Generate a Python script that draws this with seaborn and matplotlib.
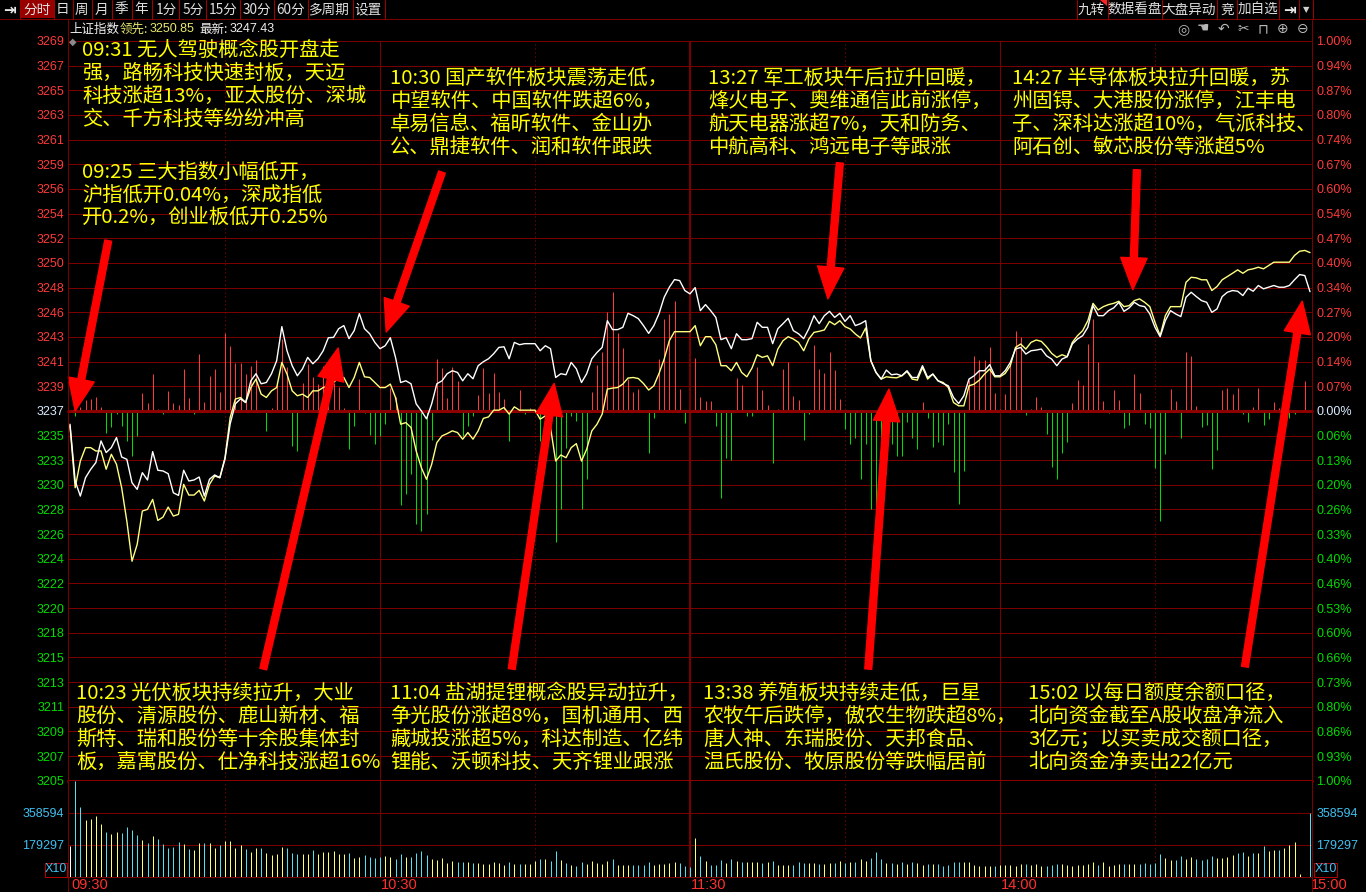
import numpy as np
import pandas as pd
import matplotlib
matplotlib.use("Agg")
import matplotlib.pyplot as plt
import matplotlib.transforms as mtransforms
from matplotlib.lines import Line2D
from matplotlib.patches import Rectangle, Polygon
import seaborn as sns

sns.set_style("dark", {"axes.facecolor": "black", "figure.facecolor": "black"})
plt.rcParams['font.family'] = ['Noto Sans CJK SC', 'DejaVu Sans']
plt.rcParams['axes.unicode_minus'] = False

# ---------------- data ----------------
PRE_CLOSE = 3237.0
LEAD_LAST = "3250.85"
INDEX_LAST = "3247.43"
STOCK_NAME = "上证指数"

time_labels = ["09:30", "10:30", "11:30", "14:00", "15:00"]
time_label_idx = [0, 60, 120, 180, 240]
solid_grid_idx = [60, 120, 180]
dotted_grid_idx = [30, 90, 150, 210]

price_labels_up = ["3239", "3241", "3243", "3246", "3248", "3250", "3252", "3254",
                   "3256", "3259", "3261", "3263", "3265", "3267", "3269"]
price_labels_down = ["3235", "3233", "3230", "3228", "3226", "3224", "3222", "3220",
                     "3218", "3215", "3213", "3211", "3209", "3207", "3205"]
pct_labels_up = ["0.07%", "0.14%", "0.20%", "0.27%", "0.34%", "0.40%", "0.47%", "0.54%",
                 "0.60%", "0.67%", "0.74%", "0.80%", "0.87%", "0.94%", "1.00%"]
pct_labels_down = ["0.06%", "0.13%", "0.20%", "0.26%", "0.33%", "0.40%", "0.46%", "0.53%",
                   "0.60%", "0.66%", "0.73%", "0.80%", "0.86%", "0.93%", "1.00%"]
volume_ticks = [179297, 358594]

# 上证指数 (white line), one value per minute
index_line = [
    3235.83, 3230.86, 3229.54, 3231.15, 3231.88, 3232.47, 3234.37, 3233.35, 3233.78, 3234.66,
    3232.96, 3232.76, 3230.71, 3230.13, 3231.59, 3230.95, 3233.43, 3231.80, 3231.74, 3231.50,
    3229.83, 3229.60, 3231.80, 3230.86, 3230.95, 3231.21, 3229.54, 3231.01, 3231.39, 3231.15,
    3232.79, 3235.86, 3237.61, 3238.05, 3237.73, 3239.63, 3240.25, 3239.37, 3239.48, 3240.25,
    3241.39, 3244.37, 3242.26, 3240.95, 3240.07, 3240.68, 3241.68, 3241.12, 3241.56, 3242.26,
    3243.40, 3243.43, 3244.19, 3244.46, 3243.32, 3244.02, 3245.51, 3244.19, 3243.75, 3242.99,
    3242.44, 3242.70, 3243.40, 3241.68, 3239.48, 3239.63, 3239.37, 3237.61, 3237.00, 3236.30,
    3237.61, 3239.37, 3239.63, 3240.25, 3240.51, 3240.36, 3239.63, 3240.25, 3239.81, 3240.95,
    3241.30, 3241.56, 3242.00, 3242.55, 3242.61, 3241.56, 3242.99, 3242.79, 3242.88, 3242.88,
    3242.88, 3242.26, 3242.70, 3242.44, 3239.92, 3240.25, 3240.16, 3241.24, 3240.68, 3239.48,
    3240.25, 3241.56, 3242.11, 3242.55, 3244.89, 3244.11, 3244.11, 3244.31, 3245.54, 3245.33,
    3245.07, 3244.46, 3243.78, 3244.46, 3245.51, 3246.94, 3247.82, 3248.49, 3248.40, 3247.53,
    3247.24, 3247.79, 3245.77, 3246.30, 3245.77, 3245.18, 3243.23, 3243.40, 3242.44, 3243.75,
    3243.23, 3243.23, 3243.32, 3244.75, 3244.31, 3244.31, 3242.88, 3244.19, 3244.63, 3245.10,
    3244.02, 3243.75, 3243.32, 3244.19, 3245.33, 3244.63, 3245.33, 3245.71, 3245.18, 3245.54,
    3244.83, 3245.33, 3244.46, 3244.63, 3244.89, 3241.39, 3240.36, 3239.78, 3240.57, 3240.16,
    3240.22, 3240.07, 3240.51, 3239.92, 3239.92, 3240.95, 3239.92, 3240.22, 3239.63, 3239.39,
    3239.19, 3238.17, 3237.64, 3238.32, 3239.78, 3240.07, 3240.51, 3240.51, 3241.04, 3240.07,
    3240.07, 3240.51, 3241.24, 3242.41, 3242.55, 3241.97, 3242.26, 3242.32, 3242.41, 3241.82,
    3241.53, 3240.95, 3241.53, 3241.74, 3242.85, 3243.29, 3243.58, 3244.31, 3246.21, 3245.33,
    3245.33, 3245.77, 3246.01, 3246.50, 3245.71, 3246.01, 3246.50, 3246.21, 3246.12, 3245.48,
    3244.31, 3243.49, 3244.89, 3245.77, 3245.48, 3245.25, 3246.94, 3247.38, 3247.00, 3246.65,
    3246.50, 3245.62, 3245.92, 3247.00, 3247.38, 3247.53, 3247.47, 3247.09, 3247.73, 3247.47,
    3247.97, 3247.68, 3247.82, 3247.97, 3247.82, 3247.82, 3247.97, 3248.47, 3248.93, 3248.84,
    3247.43]

# 领先指标 (yellow line)
lead_line = [
    3235.68, 3230.27, 3232.61, 3233.78, 3233.78, 3233.49, 3233.49, 3231.89, 3233.20, 3232.32,
    3230.27, 3227.35, 3223.84, 3225.31, 3228.23, 3228.38, 3229.25, 3227.41, 3227.70, 3228.58,
    3227.79, 3227.94, 3230.57, 3229.63, 3229.63, 3230.04, 3229.11, 3230.57, 3231.30, 3231.15,
    3232.90, 3236.41, 3238.03, 3238.17, 3237.73, 3239.04, 3239.78, 3238.46, 3238.17, 3238.75,
    3239.04, 3241.24, 3240.22, 3238.75, 3238.32, 3238.46, 3238.17, 3238.75, 3238.75, 3239.04,
    3239.19, 3239.48, 3239.92, 3239.92, 3239.04, 3239.92, 3241.24, 3239.98, 3239.92, 3239.48,
    3239.04, 3239.04, 3239.34, 3238.17, 3235.83, 3235.97, 3235.54, 3233.49, 3232.03, 3231.01,
    3232.32, 3234.22, 3234.81, 3235.01, 3235.25, 3235.10, 3234.52, 3235.10, 3234.52, 3235.25,
    3236.34, 3236.47, 3237.06, 3237.06, 3237.29, 3236.71, 3237.35, 3237.06, 3237.06, 3237.06,
    3237.06, 3236.27, 3236.56, 3235.54, 3232.61, 3233.14, 3232.90, 3233.78, 3234.13, 3232.61,
    3233.64, 3235.25, 3235.83, 3236.71, 3238.90, 3238.99, 3239.04, 3239.34, 3239.87, 3239.92,
    3239.83, 3239.39, 3238.82, 3239.19, 3240.27, 3241.53, 3243.14, 3243.93, 3243.93, 3243.93,
    3243.93, 3244.46, 3242.70, 3243.49, 3243.49, 3242.79, 3240.95, 3240.95, 3240.51, 3241.24,
    3240.36, 3239.98, 3240.75, 3241.91, 3241.68, 3241.82, 3240.95, 3242.41, 3243.14, 3243.49,
    3243.29, 3242.99, 3242.26, 3243.29, 3243.87, 3243.96, 3244.08, 3244.83, 3244.54, 3244.89,
    3244.37, 3244.17, 3243.73, 3243.38, 3244.25, 3241.39, 3240.36, 3239.78, 3239.98, 3239.92,
    3239.89, 3240.07, 3240.45, 3239.78, 3239.69, 3240.80, 3239.78, 3240.22, 3239.63, 3239.48,
    3239.04, 3237.73, 3237.44, 3237.44, 3239.19, 3239.34, 3239.69, 3240.22, 3240.66, 3239.98,
    3239.98, 3240.27, 3240.95, 3242.55, 3242.85, 3242.41, 3242.99, 3243.20, 3243.08, 3242.61,
    3242.03, 3241.68, 3241.91, 3241.74, 3242.99, 3243.58, 3244.02, 3244.89, 3246.41, 3245.83,
    3246.12, 3246.30, 3246.41, 3246.59, 3246.12, 3246.21, 3246.65, 3246.80, 3246.50, 3246.12,
    3244.75, 3243.58, 3245.33, 3246.12, 3246.12, 3246.12, 3248.25, 3248.69, 3248.64, 3248.47,
    3248.47, 3247.53, 3247.88, 3248.47, 3248.75, 3249.04, 3249.34, 3249.04, 3249.34, 3249.43,
    3249.57, 3249.43, 3249.72, 3250.01, 3250.01, 3250.01, 3250.01, 3250.60, 3250.97, 3251.04,
    3250.85]

# buy/sell strength bars (red up, green down), arbitrary units
strength = [
    0, -5, 4, 11, 12, 14, 4, -22, -16, -3,
    -15, -30, -45, -25, 18, 8, 37, 2, -3, 20,
    8, 6, 42, 13, -3, 57, 9, 35, 42, 19,
    78, 65, 48, 48, 37, 45, 51, 0, -20, 3,
    29, 72, 44, -35, -40, 28, 47, 34, 27, 45,
    37, 28, 24, 3, -38, -15, 32, -2, -24, -33,
    -25, -13, 23, 14, -94, -83, -63, -113, -120, -103,
    -29, 52, 43, 13, 44, 30, -25, -15, -5, 16,
    43, 18, 38, 19, 12, -30, 0, 21, -3, 3,
    0, -30, 5, 0, -131, -98, -37, -5, -10, -98,
    -68, 19, 46, 59, 99, 119, 78, 63, 32, 19,
    22, -1, -42, -7, 52, 92, 97, 110, 22, -12,
    0, 53, 14, 10, 10, -15, -87, -47, -49, 33,
    26, -5, -5, 44, 21, 6, -52, 2, 42, 49,
    15, 11, -29, -3, 66, 42, 38, 59, 41, 12,
    -18, -33, -27, -68, -33, -98, -135, -120, -63, -33,
    -45, -45, -11, -27, -38, 9, -7, -36, -31, -34,
    -13, -61, -93, -60, 31, 55, 51, 51, 64, 18,
    2, 17, 46, 80, 74, -4, 2, 14, 4, -23,
    -56, -68, -42, -31, 8, 31, 26, 67, 92, 49,
    10, -2, 21, 11, -17, -14, 37, 18, -13, -17,
    -57, -110, -43, 22, 10, -27, 59, 55, 5, -16,
    -14, -58, -39, 21, 23, 17, 23, -3, -11, 4,
    23, -14, -8, 9, 3, 0, -7, -3, -1, 30,
    0]

# volume per minute (thousands)
volume_k = [
    174, 538, 389, 320, 325, 338, 297, 252, 241, 252,
    247, 280, 263, 235, 207, 191, 230, 213, 185, 163,
    168, 196, 185, 157, 151, 191, 191, 191, 163, 179,
    202, 202, 163, 179, 157, 140, 163, 163, 134, 123,
    129, 168, 163, 134, 129, 129, 129, 151, 129, 140,
    140, 146, 129, 129, 134, 106, 112, 123, 112, 106,
    112, 118, 112, 101, 129, 112, 112, 134, 146, 123,
    101, 95, 105, 80, 92, 86, 84, 84, 77, 77,
    73, 73, 82, 77, 67, 82, 75, 73, 71, 73,
    90, 101, 99, 90, 146, 95, 77, 69, 64, 86,
    75, 88, 80, 71, 88, 101, 69, 67, 67, 67,
    67, 67, 82, 67, 71, 73, 77, 86, 77, 64,
    58, 220, 120, 90, 69, 67, 97, 80, 99, 92,
    84, 84, 82, 84, 78, 82, 88, 67, 67, 69,
    67, 82, 80, 80, 80, 75, 75, 78, 78, 90,
    78, 84, 84, 103, 92, 106, 140, 103, 78, 77,
    71, 86, 73, 86, 77, 69, 71, 75, 71, 64,
    69, 84, 84, 82, 84, 65, 64, 64, 64, 64,
    65, 67, 65, 64, 71, 71, 67, 71, 64, 64,
    67, 71, 71, 69, 64, 67, 65, 75, 86, 69,
    82, 64, 69, 75, 71, 75, 71, 71, 78, 75,
    78, 129, 108, 93, 93, 118, 99, 110, 103, 95,
    99, 120, 105, 105, 110, 121, 134, 138, 118, 133,
    136, 174, 144, 149, 151, 161, 177, 196, 19, 0,
    357]

notes = [
    ["09:31 无人驾驶概念股开盘走", "强，路畅科技快速封板，天迈", "科技涨超13%，亚太股份、深城", "交、千方科技等纷纷冲高"],
    ["09:25 三大指数小幅低开，", "沪指低开0.04%，深成指低", "开0.2%，创业板低开0.25%"],
    ["10:30 国产软件板块震荡走低，", "中望软件、中国软件跌超6%，", "卓易信息、福昕软件、金山办", "公、鼎捷软件、润和软件跟跌"],
    ["13:27 军工板块午后拉升回暖，", "烽火电子、奥维通信此前涨停，", "航天电器涨超7%，天和防务、", "中航高科、鸿远电子等跟涨"],
    ["14:27 半导体板块拉升回暖，苏", "州固锝、大港股份涨停，江丰电", "子、深科达涨超10%，气派科技、", "阿石创、敏芯股份等涨超5%"],
    ["10:23 光伏板块持续拉升，大业", "股份、清源股份、鹿山新材、福", "斯特、瑞和股份等十余股集体封", "板，嘉寓股份、仕净科技涨超16%"],
    ["11:04 盐湖提锂概念股异动拉升，", "争光股份涨超8%，国机通用、西", "藏城投涨超5%，科达制造、亿纬", "锂能、沃顿科技、天齐锂业跟涨"],
    ["13:38 养殖板块持续走低，巨星", "农牧午后跌停，傲农生物跌超8%，", "唐人神、东瑞股份、天邦食品、", "温氏股份、牧原股份等跌幅居前"],
    ["15:02 以每日额度余额口径，", "北向资金截至A股收盘净流入", "3亿元；以买卖成交额口径，", "北向资金净卖出22亿元"],
]
# arrow (tail minute, tail price) -> (tip minute, tip price)
arrow_tails = [(7.4, 3251.9), (37.4, 3214.4), (72.0, 3257.9), (85.5, 3214.4),
               (149.0, 3258.7), (154.5, 3214.4), (206.5, 3258.1), (227.4, 3214.6)]
arrow_tips = [(1.0, 3237.0), (51.9, 3242.5), (61.2, 3243.9), (93.7, 3239.4),
              (146.7, 3246.8), (158.5, 3238.9), (205.7, 3247.6), (238.5, 3246.6)]

# ---------------- layout ----------------
W, H = 1366, 892
PT = 0.72
DR = '#7a0000'
fig = plt.figure(figsize=(W / 100, H / 100), dpi=100, facecolor='black')


def fx(x):
    return x / W


def fy(y):
    return 1 - y / H


def fig_line(xs, ys, color=DR, px=1.0, ls='-', z=2):
    fig.add_artist(Line2D([fx(v) for v in xs], [fy(v) for v in ys], color=color,
                          lw=px * PT, ls=ls, transform=fig.transFigure, zorder=z))


n = len(index_line)
minutes = np.arange(n)
X_LEFT, X_RIGHT = 68, 1312
X_FIRST, X_LAST = 70, 1310
ppm = (X_LAST - X_FIRST) / (n - 1)
xlim = ((X_LEFT - X_FIRST) / ppm, (X_RIGHT - X_FIRST) / ppm)
Y_TOP, Y_MID, Y_BOT = 41, 780.7, 877

ax = fig.add_axes([fx(X_LEFT), fy(Y_MID), (X_RIGHT - X_LEFT) / W, (Y_MID - Y_TOP) / H])
axv = fig.add_axes([fx(X_LEFT), fy(Y_BOT), (X_RIGHT - X_LEFT) / W, (Y_BOT - Y_MID) / H])
for a in (ax, axv):
    a.set_facecolor('black')
    a.set_xlim(*xlim)
    a.grid(False)
    for s in a.spines.values():
        s.set_visible(False)
    a.set_xticks([])

ylo, yhi = PRE_CLOSE * 0.99, PRE_CLOSE * 1.01
ax.set_ylim(ylo, yhi)
levels = [PRE_CLOSE * (1 + k / 1500.0) for k in range(-15, 16)]
for k, lv in zip(range(-15, 16), levels):
    if k == 0 or k == -15:
        ax.axhline(lv, color='#8e0000', lw=3 * PT, zorder=3, clip_on=False)
    else:
        ax.axhline(lv, color=DR, lw=1 * PT, zorder=1, clip_on=False)

for a in (ax, axv):
    for i in solid_grid_idx:
        a.axvline(i, color=DR, lw=(2 if i == 120 else 1) * PT, zorder=1)
    for i in dotted_grid_idx:
        a.axvline(i, color='#a00000', lw=1 * PT, ls=(0, (1, 3)), zorder=1)

# strength bars
STRENGTH_SCALE = (yhi - ylo) / (Y_MID - Y_TOP)
st = np.array(strength, dtype=float)
nz = st != 0
bar_cols = ['#ff3a3a' if v > 0 else '#00dd00' for v in st[nz]]
ax.vlines(minutes[nz], PRE_CLOSE, PRE_CLOSE + st[nz] * STRENGTH_SCALE, colors=bar_cols,
          lw=1 * PT, zorder=2)

df = pd.DataFrame({"minute": minutes, "index": index_line, "lead": lead_line})
sns.lineplot(data=df, x="minute", y="lead", color='#ffff80', lw=1.0, ax=ax, zorder=4)
sns.lineplot(data=df, x="minute", y="index", color='white', lw=1.0, ax=ax, zorder=5)
ax.set_xlim(*xlim)
ax.set_ylim(ylo, yhi)
ax.set_xlabel("")
ax.set_ylabel("")

# y labels
lab_left = price_labels_down[::-1] + ["3237"] + price_labels_up
lab_right = pct_labels_down[::-1] + ["0.00%"] + pct_labels_up
cols = ['#00dd00'] * 15 + ['#d8ecff'] + ['#ff3a3a'] * 15
ax.set_yticks(levels)
ax.set_yticklabels(lab_left, fontsize=9, family='Liberation Sans')
for t, c in zip(ax.get_yticklabels(), cols):
    t.set_color(c)
ax.tick_params(axis='y', length=0, pad=2.5)
axr = ax.twinx()
axr.set_ylim(ylo, yhi)
axr.grid(False)
for s in axr.spines.values():
    s.set_visible(False)
axr.set_yticks(levels)
axr.set_yticklabels(lab_right, fontsize=9, family='Liberation Sans')
for t, c in zip(axr.get_yticklabels(), cols):
    t.set_color(c)
axr.tick_params(axis='y', length=0, pad=3)
axr.set_xlim(*xlim)

# volume
vol = np.array(volume_k, dtype=float)
vcols = ['white'] + ['#ffff66' if index_line[i] >= index_line[i - 1] else '#50e0f0' for i in range(1, n)]
axv.set_ylim(0, 3 * volume_ticks[0] / 1000.0)
for vt in volume_ticks:
    axv.axhline(vt / 1000.0, color=DR, lw=1 * PT, zorder=1)
vz = vol > 0
axv.vlines(minutes[vz], 0, vol[vz], colors=[c for c, k in zip(vcols, vz) if k], lw=1 * PT, zorder=3)
axv.set_yticks([v / 1000.0 for v in volume_ticks])
axv.set_yticklabels([str(v) for v in volume_ticks], fontsize=9, family='Liberation Sans', color='#40c0f0')
axv.tick_params(axis='y', length=0, pad=2.5)
axvr = axv.twinx()
axvr.set_ylim(axv.get_ylim())
axvr.grid(False)
for s in axvr.spines.values():
    s.set_visible(False)
axvr.set_yticks([v / 1000.0 for v in volume_ticks])
axvr.set_yticklabels([str(v) for v in volume_ticks], fontsize=9, family='Liberation Sans', color='#40c0f0')
axvr.tick_params(axis='y', length=0, pad=3)
axvr.set_xlim(*xlim)

# time labels
bt = mtransforms.blended_transform_factory(axv.transData, axv.transAxes)
for i, lab in zip(time_label_idx, time_labels):
    axv.text(i + 0.2, -(885 - Y_BOT) / (Y_BOT - Y_MID), lab, transform=bt, ha='left',
             va='center', color='#ff3030', fontsize=10.5, family='Liberation Sans', clip_on=False)

# arrows
for tail, tip in zip(arrow_tails, arrow_tips):
    ax.annotate("", xy=tip, xytext=tail, xycoords='data', textcoords='data',
                arrowprops=dict(arrowstyle="simple,head_length=1.15,head_width=0.95,tail_width=0.25",
                                color='#ff0000', shrinkA=0, shrinkB=0, mutation_scale=20),
                zorder=10)

# frame lines
fig_line([0, W], [18.5, 18.5])
fig_line([X_LEFT, X_LEFT], [18.5, H])
fig_line([X_RIGHT, X_RIGHT], [18.5, H])
fig_line([X_LEFT, X_RIGHT], [Y_BOT, Y_BOT])

# X10 boxes
for x0 in (44.5, 1314):
    fig.add_artist(Rectangle((fx(x0), fy(876.5)), 22.5 / W, 14 / H, transform=fig.transFigure,
                             fill=False, edgecolor='#b00000', lw=1 * PT))
    fig.text(fx(x0 + 11.5), fy(869.5), "X10", color='#40c0f0', fontsize=9,
             family='Liberation Sans', ha='center', va='center')

# toolbar
fig.add_artist(Rectangle((fx(19.5), fy(18)), 34 / W, 18 / H, transform=fig.transFigure,
                         facecolor='#980000', edgecolor='none'))
left_items = [("分时", 37), ("日", 62), ("周", 81), ("月", 101), ("季", 121), ("年", 141),
              ("1分", 166), ("5分", 193), ("15分", 223), ("30分", 257), ("60分", 291),
              ("多周期", 329), ("设置", 368)]
left_seps = [19.5, 53.5, 72.5, 92, 111.5, 131.5, 151.5, 179, 206, 240, 274, 307.5, 352.5, 385]
for lab, xc in left_items:
    fig.text(fx(xc), fy(9.5), lab, color='#e0e0e0', fontsize=9.8, ha='center', va='center')
fig.text(fx(10), fy(9.5), "⇥", color='#e8e8e8', fontsize=11, ha='center', va='center',
         family=['DejaVu Sans'], fontweight='bold')
for xs in left_seps:
    fig_line([xs, xs], [0, 18.5], color='#a00000')
right_items = [("九转", 1091), ("数据看盘", 1135), ("大盘异动", 1189), ("竞", 1227), ("加自选", 1258)]
right_seps = [1077, 1108, 1162, 1217, 1237, 1279, 1299, 1313]
for lab, xc in right_items:
    fig.text(fx(xc), fy(9.5), lab, color='#e0e0e0', fontsize=9.8, ha='center', va='center')
fig.text(fx(1289), fy(9.5), "⇥", color='#e8e8e8', fontsize=11, ha='center', va='center',
         family=['DejaVu Sans'], fontweight='bold')
fig.text(fx(1306), fy(10), "▼", color='#d0d0d0', fontsize=6, ha='center', va='center',
         family=['DejaVu Sans'])
for xs in right_seps:
    fig_line([xs, xs], [0, 18.5], color='#a00000')
fig.add_artist(Polygon([[fx(1100), fy(0)], [fx(1107), fy(0)], [fx(1107), fy(6)]],
                       closed=True, transform=fig.transFigure, facecolor='#ff2020', edgecolor='none'))

# header row
fig.text(fx(69), fy(29), STOCK_NAME, color='#f0f0f0', fontsize=9, ha='left', va='center')
fig.text(fx(120), fy(29), "领先:", color='#e8e870', fontsize=9, ha='left', va='center')
fig.text(fx(150), fy(29), LEAD_LAST, color='#e8e870', fontsize=9, ha='left', va='center',
         family='Liberation Sans')
fig.text(fx(199), fy(29), "最新:", color='#f0f0f0', fontsize=9, ha='left', va='center')
fig.text(fx(230), fy(29), INDEX_LAST, color='#f0f0f0', fontsize=9, ha='left', va='center',
         family='Liberation Sans')
for sym, xc in [("◎", 1183), ("☚", 1203), ("↶", 1223), ("✂", 1243), ("⊓", 1263), ("⊕", 1283), ("⊖", 1303)]:
    fig.text(fx(xc), fy(29), sym, color='#b8b8b8', fontsize=10, ha='center', va='center',
             family=['DejaVu Sans'])
fig.text(fx(73), fy(42), "◆", color='#8a8a8a', fontsize=7, ha='center', va='center',
         family=['DejaVu Sans'])

# annotation texts
note_pos = [(82, 50), (82, 172), (390, 78), (708, 78), (1012, 78),
            (76, 693), (390, 693), (703, 693), (1028, 693)]
for (x0, y0), lines in zip(note_pos, notes):
    for j, line in enumerate(lines):
        fig.text(fx(x0), fy(y0 + 23 * j), line, color='#ffff00', fontsize=14.6,
                 ha='left', va='center', zorder=6)

fig.savefig("out.png", dpi=100, facecolor='black')
